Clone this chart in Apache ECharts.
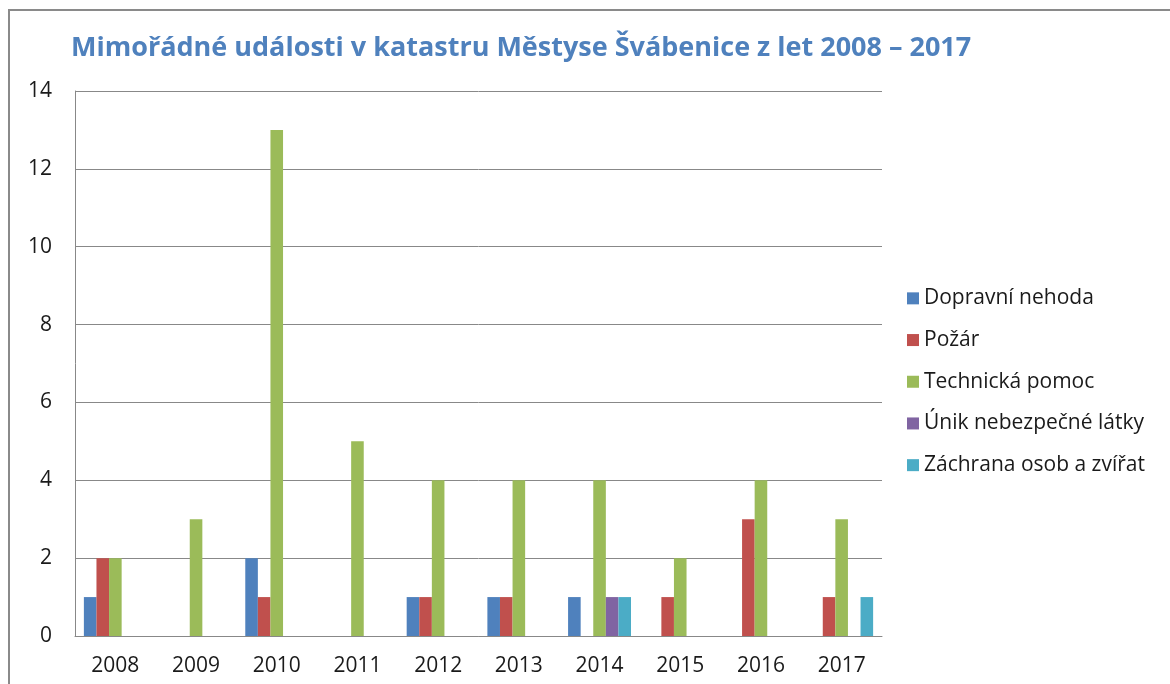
<!DOCTYPE html>
<html>
<head>
<meta charset="utf-8">
<script src="https://cdn.jsdelivr.net/npm/echarts@6/dist/echarts.min.js"></script>
<style>
  html, body { margin: 0; padding: 0; background: #fff; }
  #chart { width: 1170px; height: 684px; }
</style>
</head>
<body>
<div id="chart"></div>
<script>
// data
const years = ['2008', '2009', '2010', '2011', '2012', '2013', '2014', '2015', '2016', '2017']
const dopravniNehoda = [1, 0, 2, 0, 1, 1, 1, 0, 0, 0]
const pozar = [2, 0, 1, 0, 1, 1, 0, 1, 3, 1]
const technickaPomoc = [2, 3, 13, 5, 4, 4, 4, 2, 4, 3]
const unikLatky = [0, 0, 0, 0, 0, 0, 1, 0, 0, 0]
const zachrana = [0, 0, 0, 0, 0, 0, 1, 0, 0, 1]
const yTicks = [0, 2, 4, 6, 8, 10, 12, 14]

const seriesDefs = [
  { name: 'Dopravní nehoda', data: dopravniNehoda, color: '#4F81BD' },
  { name: 'Požár', data: pozar, color: '#C0504D' },
  { name: 'Technická pomoc', data: technickaPomoc, color: '#9BBB59' },
  { name: 'Únik nebezpečné látky', data: unikLatky, color: '#8064A2' },
  { name: 'Záchrana osob a zvířat', data: zachrana, color: '#4BACC6' }
]

const font = '"Open Sans", "Noto Sans", sans-serif'
const chart = echarts.init(document.getElementById('chart'))

chart.setOption({
  animation: false,
  textStyle: { fontFamily: font },
  title: {
    text: 'Mimořádné události v katastru Městyse Švábenice z let 2008 – 2017',
    left: 66,
    top: 30,
    textStyle: { color: '#4F81BD', fontSize: 27, fontWeight: 'bold', fontFamily: font }
  },
  graphic: [{
    type: 'rect',
    shape: { x: 9, y: 10, width: 1200, height: 720 },
    style: { fill: 'none', stroke: '#8a8a8a', lineWidth: 2 },
    silent: true
  }],
  legend: {
    orient: 'vertical',
    left: 902,
    top: 282,
    itemWidth: 12,
    itemHeight: 12,
    itemGap: 19,
    icon: 'rect',
    textStyle: { fontSize: 21, color: '#1a1a1a', lineHeight: 22.7, fontFamily: font },
    data: seriesDefs.map(s => s.name)
  },
  grid: {
    left: 75,
    right: 288,
    top: 91,
    bottom: 48,
    containLabel: false
  },
  xAxis: {
    type: 'category',
    data: years,
    axisTick: { show: false },
    axisLine: { lineStyle: { color: '#888', width: 1 } },
    axisLabel: { fontSize: 21, color: '#1a1a1a', margin: 20 }
  },
  yAxis: {
    type: 'value',
    min: yTicks[0],
    max: yTicks[yTicks.length - 1],
    interval: 2,
    axisLine: { show: true, lineStyle: { color: '#888', width: 1 } },
    axisTick: { show: false },
    splitLine: { lineStyle: { color: '#888', width: 1 } },
    axisLabel: { fontSize: 21, color: '#1a1a1a', margin: 23 }
  },
  series: seriesDefs.map(s => ({
    name: s.name,
    type: 'bar',
    data: s.data,
    barGap: '0%',
    barCategoryGap: '22%',
    itemStyle: { color: s.color }
  }))
})
</script>
</body>
</html>
